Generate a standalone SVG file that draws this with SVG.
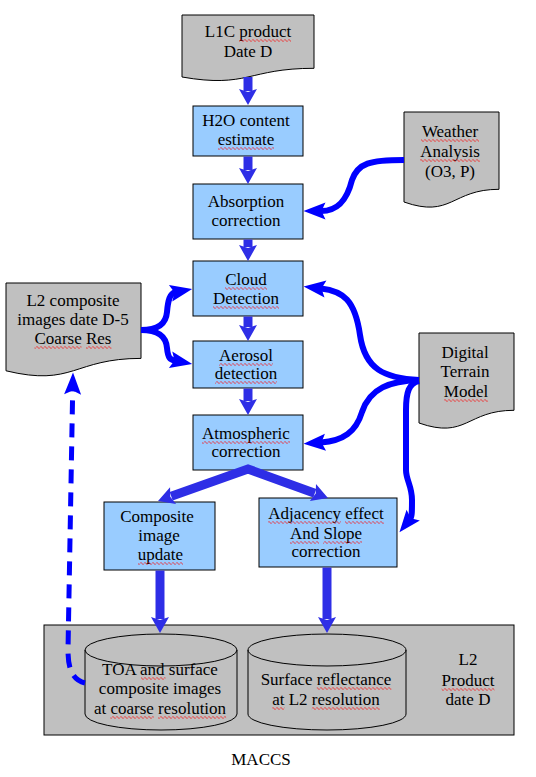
<svg xmlns="http://www.w3.org/2000/svg" width="536" height="777" viewBox="0 0 536 777">
<style>
text{font-family:"Liberation Serif","Times New Roman",serif;font-size:17px;fill:#000;text-anchor:middle}
.box{fill:#99ccff;stroke:#000;stroke-width:1}
.doc{fill:#c0c0c0;stroke:#000;stroke-width:1}
.flow{fill:none;stroke:#2e2ee6;stroke-width:9;marker-end:url(#hs)}
.curve{fill:none;stroke:#0000ff;stroke-width:6;marker-end:url(#hb)}
</style>
<defs>
<marker id="hs" markerUnits="userSpaceOnUse" markerWidth="20" markerHeight="20" refX="2" refY="9" orient="auto" overflow="visible"><path d="M0,0 L16,9 L0,18 L3,9 Z" fill="#2e2ee6"/></marker>
<marker id="hs2" markerUnits="userSpaceOnUse" markerWidth="20" markerHeight="20" refX="2" refY="9" orient="auto-start-reverse" overflow="visible"><path d="M0,0 L16,9 L0,18 L3,9 Z" fill="#2e2ee6"/></marker>
<marker id="hb" markerUnits="userSpaceOnUse" markerWidth="24" markerHeight="20" refX="4.5" refY="8.5" orient="auto" overflow="visible"><path d="M0,0 L22,8.5 L0,17 L4,8.5 Z" fill="#0000ff"/></marker>
<pattern id="sq0" patternUnits="userSpaceOnUse" x="0" y="0" width="4" height="3"><path d="M0,1.5 Q1,-0.5 2,1.5 T4,1.5" fill="none" stroke="#ff0000" stroke-width="0.8"/></pattern>
<pattern id="sq1" patternUnits="userSpaceOnUse" x="0" y="1" width="4" height="3"><path d="M0,1.5 Q1,-0.5 2,1.5 T4,1.5" fill="none" stroke="#ff0000" stroke-width="0.8"/></pattern>
<pattern id="sq2" patternUnits="userSpaceOnUse" x="0" y="2" width="4" height="3"><path d="M0,1.5 Q1,-0.5 2,1.5 T4,1.5" fill="none" stroke="#ff0000" stroke-width="0.8"/></pattern>
</defs>
<rect width="536" height="777" fill="#fff"/>

<g id="l1c">
<path class="doc" d="M182,15 H314 V68.3 C248,68.3 248,88.5 182,77 Z"/>
<text x="248" y="37">L1C product</text>
<text x="248" y="57">Date D</text>
<rect x="239" y="39" width="52" height="3" fill="url(#sq0)"/>
</g>

<g id="h2o">
<rect class="box" x="193" y="106" width="110" height="50"/>
<text x="246" y="126">H2O content</text>
<text x="246" y="145">estimate</text>
<rect x="218" y="147" width="56" height="3" fill="url(#sq0)"/>
</g>

<g id="absorption">
<rect class="box" x="193" y="184" width="110" height="55"/>
<text x="246" y="207">Absorption</text>
<text x="246" y="226">correction</text>
</g>

<g id="weather">
<path class="doc" d="M404,112 H499 V189.3 C451.5,189.3 451.5,218.7 404,202 Z"/>
<text x="450" y="137">Weather</text>
<text x="450" y="157">Analysis</text>
<text x="450" y="177">(O3, P)</text>
<rect x="421" y="139" width="58" height="3" fill="url(#sq1)"/>
<rect x="420" y="159" width="60" height="3" fill="url(#sq0)"/>
</g>

<g id="cloud">
<rect class="box" x="193" y="261" width="110" height="55"/>
<text x="246" y="285">Cloud</text>
<text x="246" y="304">Detection</text>
<rect x="225" y="287" width="42" height="3" fill="url(#sq2)"/>
<rect x="213" y="306" width="66" height="3" fill="url(#sq0)"/>
</g>

<g id="aerosol">
<rect class="box" x="193" y="341" width="110" height="47"/>
<text x="246" y="361">Aerosol</text>
<text x="246" y="379">detection</text>
<rect x="219" y="363" width="54" height="3" fill="url(#sq0)"/>
<rect x="215" y="381" width="62" height="3" fill="url(#sq0)"/>
</g>

<g id="atmospheric">
<rect class="box" x="193" y="415" width="110" height="55"/>
<text x="246" y="439">Atmospheric</text>
<text x="246" y="457">correction</text>
<rect x="202" y="441" width="88" height="3" fill="url(#sq0)"/>
</g>

<g id="l2composite">
<path class="doc" d="M6,283 H141 V358.4 C73.5,358.4 73.5,387.1 6,370.8 Z"/>
<text x="73" y="306">L2 composite</text>
<text x="73" y="325">images date D-5</text>
<text x="73" y="344">Coarse Res</text>
<rect x="34.5" y="346" width="47" height="3" fill="url(#sq1)"/>
<rect x="86" y="346" width="25.5" height="3" fill="url(#sq1)"/>
</g>

<g id="dtm">
<path class="doc" d="M419,333 H514 V410.3 C466.5,410.3 466.5,439.7 419,423 Z"/>
<text x="465" y="358">Digital</text>
<text x="465" y="377">Terrain</text>
<text x="466" y="397">Model</text>
<rect x="444" y="399" width="44" height="3" fill="url(#sq0)"/>
</g>

<g id="composite">
<rect class="box" x="104" y="502" width="111" height="68"/>
<text x="157" y="522">Composite</text>
<text x="159" y="541">image</text>
<text x="160.5" y="560">update</text>
<rect x="138" y="562" width="45" height="3" fill="url(#sq1)"/>
</g>

<g id="adjacency">
<rect class="box" x="259" y="498" width="138" height="69"/>
<text x="326" y="519">Adjacency effect</text>
<text x="326" y="539">And Slope</text>
<text x="326" y="557">correction</text>
<rect x="268" y="521" width="73" height="3" fill="url(#sq2)"/>
<rect x="345" y="521" width="39" height="3" fill="url(#sq2)"/>
<rect x="290" y="541" width="29" height="3" fill="url(#sq1)"/>
<rect x="323" y="541" width="39" height="3" fill="url(#sq1)"/>
</g>

<g id="l2product">
<rect class="doc" x="44" y="625" width="470" height="110"/>
<text x="468" y="665">L2</text>
<text x="468" y="686">Product</text>
<text x="468" y="705">date D</text>
<rect x="441.6" y="688" width="52.8" height="3" fill="url(#sq1)"/>
</g>

<g id="toa-db">
<path class="doc" d="M85,650 A76,16 0 0,1 237,650 V714 A76,16 0 0,1 85,714 Z"/>
<path d="M85,650 A76,16 0 0,0 237,650" fill="none" stroke="#000" stroke-width="1"/>
<text x="160" y="675">TOA and surface</text>
<text x="160" y="694">composite images</text>
<text x="160" y="714">at coarse resolution</text>
<rect x="141" y="677" width="24.5" height="3" fill="url(#sq2)"/>
<rect x="110.4" y="716" width="43.4" height="3" fill="url(#sq2)"/>
<rect x="158.1" y="716" width="68" height="3" fill="url(#sq2)"/>
</g>

<g id="surface-db">
<path class="doc" d="M248,650 A79,16 0 0,1 406,650 V714 A79,16 0 0,1 248,714 Z"/>
<path d="M248,650 A79,16 0 0,0 406,650" fill="none" stroke="#000" stroke-width="1"/>
<text x="326" y="685">Surface reflectance</text>
<text x="326" y="705">at L2 resolution</text>
<rect x="316.8" y="687" width="74.6" height="3" fill="url(#sq0)"/>
<rect x="272.2" y="707" width="12.3" height="3" fill="url(#sq2)"/>
<rect x="311.8" y="707" width="68" height="3" fill="url(#sq2)"/>
</g>

<g id="caption">
<text x="261" y="765">MACCS</text>
</g>

<g id="connectors">
<path class="flow" d="M248,77 V91"/>
<path class="flow" d="M248,156.5 V170"/>
<path class="flow" d="M248,239.5 V247"/>
<path class="flow" d="M248,316.5 V327"/>
<path class="flow" d="M248,388.5 V401"/>
<path class="flow" d="M160,570.5 V619"/>
<path class="flow" d="M327,567.5 V619"/>
<path d="M171.2,496.3 L248,469 L314.8,493.2" fill="none" stroke="#2e2ee6" stroke-width="9" marker-start="url(#hs2)" marker-end="url(#hs2)"/>
<path class="curve" d="M404,160 C370,160 358,163 352,180 C347,200 338,211 321,211"/>
<path class="curve" d="M141,330 C158,330 166,324 167,312 C168,300 170,293.4 175,292.4"/>
<path class="curve" d="M141,330 C158,330 166,336 167,348 C168,358 170,359.6 175,360.6"/>
<path class="curve" d="M419,380 C385,378 365,370 360,335 C355,300 343,291 321,288.5"/>
<path class="curve" d="M419,380 C390,381 370,388 362,412 C356,432 343,441 321,442.5"/>
<path class="curve" d="M419,381 C409,383 406,392 406,410 L406,470 C406,480 412,486 412,500 C412,511 412,516.6 410.4,518.6"/>
<path d="M85,683 C72,680 68,668 68,650 L72.7,390" fill="none" stroke="#0000ff" stroke-width="5" stroke-dasharray="14 9" marker-end="url(#hb)"/>
</g>
</svg>
